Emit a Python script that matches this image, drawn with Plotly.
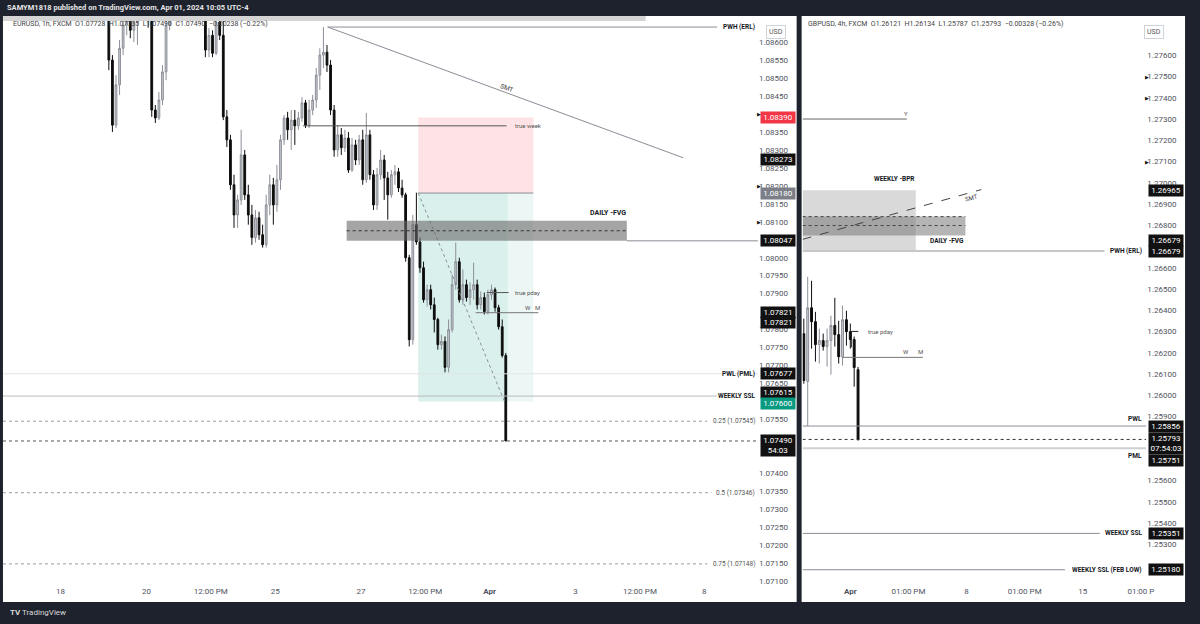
import plotly.graph_objects as go

W, H = 1200, 624
FONT = "Roboto, DejaVu Sans, sans-serif"

# ---------------- EURUSD (1h chart, drawn as 2-hour candles) ----------------
# x = trading-hour index counted from Mon 18 Mar 00:00
eu_x = list(range(27, 27 + 2 * 112, 2))
eu_open = [1.08700, 1.08550, 1.08369, 1.08481, 1.08583, 1.08647, 1.08661, 1.08633, 1.08656, 1.08690,
           1.08750, 1.08720, 1.08660, 1.08411, 1.08389, 1.08439, 1.08517, 1.08647, 1.08703, 1.08820,
           1.08980, 1.09200, 1.09350, 1.09100, 1.08950, 1.08840, 1.08760, 1.08700, 1.08578, 1.08619,
           1.08569, 1.08656, 1.08619, 1.08392, 1.08328, 1.08203, 1.08119, 1.08161, 1.08286, 1.08175,
           1.08119, 1.08056, 1.08111, 1.08064, 1.08036, 1.08147, 1.08203, 1.08147, 1.08217, 1.08328,
           1.08389, 1.08356, 1.08383, 1.08367, 1.08389, 1.08431, 1.08369, 1.08411, 1.08439, 1.08508,
           1.08564, 1.08572, 1.08536, 1.08411, 1.08300, 1.08342, 1.08306, 1.08333, 1.08244, 1.08314,
           1.08272, 1.08328, 1.08217, 1.08342, 1.08231, 1.08147, 1.08231, 1.08272, 1.08222, 1.08175,
           1.08231, 1.08239, 1.08194, 1.08175, 1.08000, 1.07772, 1.08092, 1.08044, 1.07972, 1.07883,
           1.07911, 1.07869, 1.07828, 1.07758, 1.07767, 1.07695, 1.07800, 1.07925, 1.07989, 1.07883,
           1.07925, 1.07889, 1.07911, 1.07925, 1.07869, 1.07889, 1.07850, 1.07897, 1.07911, 1.07861,
           1.07808, 1.07728]
eu_high = [1.08720, 1.08564, 1.08508, 1.08606, 1.08675, 1.08689, 1.08695, 1.08675, 1.08710, 1.08780,
           1.08790, 1.08740, 1.08667, 1.08425, 1.08461, 1.08536, 1.08675, 1.08720, 1.08850, 1.09050,
           1.09250, 1.09420, 1.09380, 1.09150, 1.09020, 1.08900, 1.08800, 1.08720, 1.08639, 1.08633,
           1.08675, 1.08689, 1.08661, 1.08411, 1.08342, 1.08231, 1.08175, 1.08356, 1.08300, 1.08203,
           1.08147, 1.08133, 1.08128, 1.08092, 1.08175, 1.08231, 1.08222, 1.08258, 1.08342, 1.08397,
           1.08406, 1.08411, 1.08411, 1.08406, 1.08447, 1.08439, 1.08439, 1.08453, 1.08528, 1.08583,
           1.08642, 1.08592, 1.08550, 1.08425, 1.08369, 1.08361, 1.08356, 1.08350, 1.08333, 1.08328,
           1.08342, 1.08356, 1.08403, 1.08356, 1.08244, 1.08250, 1.08300, 1.08286, 1.08239, 1.08244,
           1.08258, 1.08250, 1.08217, 1.08181, 1.08008, 1.08119, 1.08181, 1.08056, 1.07989, 1.07925,
           1.07925, 1.07889, 1.07833, 1.07786, 1.07781, 1.07828, 1.07953, 1.08042, 1.08000, 1.07967,
           1.07939, 1.07931, 1.07986, 1.07939, 1.07906, 1.07903, 1.07911, 1.07925, 1.07917, 1.07869,
           1.07828, 1.07735]
eu_low = [1.08522, 1.08350, 1.08361, 1.08453, 1.08564, 1.08619, 1.08611, 1.08600, 1.08592, 1.08660,
          1.08680, 1.08640, 1.08392, 1.08375, 1.08383, 1.08425, 1.08494, 1.08633, 1.08680, 1.08780,
          1.08930, 1.09120, 1.09050, 1.08900, 1.08800, 1.08720, 1.08680, 1.08558, 1.08558, 1.08558,
          1.08564, 1.08606, 1.08383, 1.08308, 1.08189, 1.08083, 1.08083, 1.08147, 1.08161, 1.08092,
          1.08036, 1.08042, 1.08050, 1.08028, 1.08028, 1.08119, 1.08092, 1.08128, 1.08189, 1.08314,
          1.08328, 1.08300, 1.08314, 1.08356, 1.08378, 1.08361, 1.08361, 1.08397, 1.08417, 1.08467,
          1.08528, 1.08517, 1.08397, 1.08281, 1.08281, 1.08286, 1.08294, 1.08236, 1.08239, 1.08258,
          1.08258, 1.08203, 1.08208, 1.08217, 1.08133, 1.08133, 1.08217, 1.08161, 1.08106, 1.08167,
          1.08203, 1.08183, 1.08167, 1.07989, 1.07753, 1.07758, 1.08036, 1.07958, 1.07875, 1.07864,
          1.07856, 1.07792, 1.07744, 1.07744, 1.07681, 1.07681, 1.07792, 1.07911, 1.07875, 1.07869,
          1.07878, 1.07869, 1.07883, 1.07856, 1.07856, 1.07842, 1.07842, 1.07883, 1.07850, 1.07800,
          1.07722, 1.07490]
eu_close = [1.08550, 1.08369, 1.08481, 1.08583, 1.08647, 1.08661, 1.08633, 1.08656, 1.08690, 1.08750,
            1.08720, 1.08660, 1.08411, 1.08389, 1.08439, 1.08517, 1.08647, 1.08703, 1.08820, 1.08980,
            1.09200, 1.09350, 1.09100, 1.08950, 1.08840, 1.08760, 1.08700, 1.08578, 1.08619, 1.08569,
            1.08656, 1.08619, 1.08392, 1.08328, 1.08203, 1.08119, 1.08161, 1.08286, 1.08175, 1.08119,
            1.08056, 1.08111, 1.08064, 1.08036, 1.08147, 1.08203, 1.08147, 1.08217, 1.08328, 1.08389,
            1.08356, 1.08383, 1.08367, 1.08389, 1.08431, 1.08369, 1.08411, 1.08439, 1.08508, 1.08564,
            1.08572, 1.08536, 1.08411, 1.08300, 1.08342, 1.08306, 1.08333, 1.08244, 1.08314, 1.08272,
            1.08328, 1.08217, 1.08342, 1.08231, 1.08147, 1.08231, 1.08272, 1.08222, 1.08175, 1.08231,
            1.08239, 1.08194, 1.08175, 1.08000, 1.07772, 1.08092, 1.08044, 1.07972, 1.07883, 1.07911,
            1.07869, 1.07828, 1.07758, 1.07767, 1.07695, 1.07800, 1.07925, 1.07989, 1.07883, 1.07925,
            1.07889, 1.07911, 1.07925, 1.07869, 1.07889, 1.07850, 1.07897, 1.07911, 1.07861, 1.07808,
            1.07728, 1.07490]
eu_tick_pos = [0, 48, 84, 120, 168, 204, 240, 288, 324, 360]
eu_tick_txt = ["18", "20", "12:00 PM", "25", "27", "12:00 PM", "<b>Apr</b>", "3", "12:00 PM", "8"]
# price-scale labels visible on the EURUSD axis (those hidden under price boxes left out)
eu_price_ticks = [1.07100, 1.07150, 1.07200, 1.07250, 1.07300, 1.07350, 1.07400,
                  1.07550, 1.07650, 1.07700, 1.07750, 1.07800, 1.07900, 1.07950, 1.08000,
                  1.08100, 1.08150, 1.08200, 1.08250, 1.08300, 1.08350, 1.08450, 1.08500,
                  1.08550, 1.08600]

# ---------------- GBPUSD (4h chart) ----------------
# x = 4h bar index, 0 = first bar of Apr 1
gb_x = list(range(-12, 3))
gb_open = [1.26290, 1.26065, 1.26412, 1.26347, 1.26239, 1.26258, 1.26230, 1.26258, 1.26329, 1.26286,
           1.26182, 1.26356, 1.26300, 1.26263, 1.26121]
gb_high = [1.26361, 1.26558, 1.26539, 1.26393, 1.26314, 1.26291, 1.26314, 1.26375, 1.26459, 1.26351,
           1.26422, 1.26398, 1.26338, 1.26277, 1.26134]
gb_low = [1.26055, 1.25856, 1.26220, 1.26159, 1.26150, 1.26211, 1.26135, 1.26098, 1.26230, 1.26150,
          1.26140, 1.26234, 1.26220, 1.26041, 1.25787]
gb_close = [1.26070, 1.26412, 1.26347, 1.26239, 1.26258, 1.26230, 1.26258, 1.26329, 1.26286, 1.26182,
            1.26356, 1.26300, 1.26263, 1.26131, 1.25793]
gb_tick_pos = [0, 15, 30, 45, 60, 75]
gb_tick_txt = ["<b>Apr</b>", "01:00 PM", "8", "01:00 PM", "15", "01:00 P"]
gb_price_ticks = [1.25300, 1.25400, 1.25500, 1.25600, 1.25900, 1.26000, 1.26100, 1.26200,
                  1.26300, 1.26400, 1.26500, 1.26600, 1.26800, 1.26900, 1.27000, 1.27100,
                  1.27200, 1.27300, 1.27400, 1.27500, 1.27600]

# ---------------- figure ----------------
fig = go.Figure()
inc = dict(line=dict(color="#8c8f98", width=1), fillcolor="#c8cad0")
dec = dict(line=dict(color="#0d0d0d", width=1), fillcolor="#0d0d0d")
fig.add_trace(go.Candlestick(x=eu_x, open=eu_open, high=eu_high, low=eu_low, close=eu_close,
                             xaxis="x", yaxis="y", increasing=inc, decreasing=dec,
                             whiskerwidth=0, hoverinfo="skip", showlegend=False))
fig.add_trace(go.Candlestick(x=gb_x, open=gb_open, high=gb_high, low=gb_low, close=gb_close,
                             xaxis="x2", yaxis="y2", increasing=inc, decreasing=dec,
                             whiskerwidth=0, hoverinfo="skip", showlegend=False))

shapes = []
ann = []


def P(px):
    return px / W


def PY(py):
    return 1 - py / H


def rect(xref, yref, x0, x1, y0, y1, fill, layer="below", line=None):
    shapes.append(dict(type="rect", xref=xref, yref=yref, x0=x0, x1=x1, y0=y0, y1=y1,
                       fillcolor=fill, line=line or dict(width=0), layer=layer))


def seg(xref, yref, x0, x1, y0, y1, color, width=1, dash="solid", layer="above"):
    shapes.append(dict(type="line", xref=xref, yref=yref, x0=x0, x1=x1, y0=y0, y1=y1,
                       line=dict(color=color, width=width, dash=dash), layer=layer))


def txt(x, y, text, xref, yref, size=7, color="#131722", xanchor="center", yanchor="middle",
        angle=0, yshift=0, xshift=0):
    ann.append(dict(x=x, y=y, xref=xref, yref=yref, text=text, showarrow=False, xanchor=xanchor,
                    yanchor=yanchor, textangle=angle, yshift=yshift, xshift=xshift,
                    font=dict(size=size, color=color, family=FONT)))


def pbox(text, y, yref, xpx, bg, yshift=0, fg="white"):
    ann.append(dict(x=P(xpx), xref="paper", y=y, yref=yref, text=text, showarrow=False,
                    xanchor="left", yanchor="middle", bgcolor=bg, borderpad=1, width=32,
                    align="center", yshift=yshift, font=dict(size=8, color=fg, family=FONT)))


# panel backgrounds and frame
rect("paper", "paper", P(3), P(802), PY(603), PY(16), "white")
rect("paper", "paper", P(807), P(1193), PY(603), PY(16), "white")
rect("paper", "paper", P(3), P(650), PY(21), PY(16), "#d4d4d4", layer="above")

# ---------- left panel drawings ----------
L_X0, L_X1 = -32.2, 390
rect("x", "y", 200, 264.4, 1.08180, 1.08390, "rgba(242,54,69,0.14)")
rect("x", "y", 200, 250, 1.07600, 1.08180, "rgba(8,153,129,0.15)")
rect("x", "y", 250, 264.4, 1.07600, 1.08180, "rgba(8,153,129,0.08)")
seg("x", "y", 200, 264.4, 1.08180, 1.08180, "#8a8d96")
seg("x", "y", 200, 248.3, 1.08180, 1.07600, "#8a8d96", dash="dot")
rect("x", "y", 160, 316.7, 1.08047, 1.08103, "rgba(105,105,105,0.6)", layer="above")
seg("x", "y", 160, 316.7, 1.08075, 1.08075, "#333333", dash="dot")
seg("x", "y", 316.7, L_X1, 1.08047, 1.08047, "#8a8d96")
seg("x", "y", 135.6, 249.4, 1.08367, 1.08367, "#555555")
seg("x", "y", 149.4, 367.2, 1.08642, 1.08642, "#8a8d96")
seg("x", "y", 149.4, 348.3, 1.08642, 1.08278, "#8a8d96")
seg("x", "y", 238.3, 250.6, 1.07903, 1.07903, "#555555")
seg("x", "y", 232.2, 267.2, 1.07847, 1.07847, "#777777")
seg("x", "y", L_X0, L_X1, 1.07677, 1.07677, "#e3e4e8")
seg("x", "y", L_X0, 367, 1.07615, 1.07615, "#b8bac0")
seg("x", "y", L_X0, 361.7, 1.07545, 1.07545, "#9a9ca3", dash="dot")
seg("x", "y", L_X0, L_X1, 1.07490, 1.07490, "#555555", dash="dot")
seg("x", "y", L_X0, 364, 1.07346, 1.07346, "#9a9ca3", dash="dot")
seg("x", "y", L_X0, 361.7, 1.07148, 1.07148, "#9a9ca3", dash="dot")

txt(253, 1.08367, "true week", "x", "y", size=6, color="#555", xanchor="left")
txt(253, 1.07903, "true pday", "x", "y", size=6, color="#555", xanchor="left")
txt(261.5, 1.07847, "W", "x", "y", size=6, color="#555", yanchor="bottom")
txt(266.5, 1.07847, "M", "x", "y", size=6, color="#555", yanchor="bottom")
txt(306, 1.08125, "<b>DAILY -FVG</b>", "x", "y", size=7)
txt(249.4, 1.08472, "SMT", "x", "y", size=6.5, color="#333", angle=20)
for lvl, label, bold in [(1.08642, "PWH (ERL)", True), (1.07677, "PWL (PML)", True),
                         (1.07615, "WEEKLY SSL", True), (1.07545, "0.25 (1.07545)", False),
                         (1.07346, "0.5 (1.07346)", False), (1.07148, "0.75 (1.07148)", False)]:
    txt(P(762), lvl, f"<b>{label}</b>" if bold else label, "paper", "y", size=6.5,
        color="#131722" if bold else "#555", xanchor="right")

# left price-axis boxes
pbox("1.08390", 1.08390, "y", 765, "#f23645")
pbox("1.08273", 1.08273, "y", 765, "#111111")
pbox("1.08180", 1.08180, "y", 765, "#7c7f88")
pbox("1.08047", 1.08047, "y", 765, "#111111")
pbox("1.07821", 1.07821, "y", 765, "#111111", yshift=10)
pbox("1.07821", 1.07821, "y", 765, "#111111")
pbox("1.07677", 1.07677, "y", 765, "#111111")
pbox("1.07615", 1.07615, "y", 765, "#111111", yshift=4)
pbox("1.07600", 1.07600, "y", 765, "#089981", yshift=-2)
pbox("1.07490<br>54:03", 1.07490, "y", 765, "#111111", yshift=-5)
for lvl in [1.08400, 1.08200, 1.08100]:
    txt(P(760), lvl, "▶", "paper", "y", size=5, color="#111", xanchor="left")

# ---------- right panel drawings ----------
R_X0, R_X1 = -12.31, 76.4
rect("x2", "y2", R_X0, 16.9, 1.26679, 1.26965, "rgba(170,170,170,0.45)")
rect("x2", "y2", R_X0, 29.7, 1.26752, 1.26841, "rgba(120,120,120,0.55)")
seg("x2", "y2", R_X0, 29.7, 1.26841, 1.26841, "#444", dash="dot")
seg("x2", "y2", R_X0, 29.7, 1.26799, 1.26799, "#444", dash="dot")
seg("x2", "y2", R_X0, 33.8, 1.26734, 1.26968, "#444", dash="dash")
seg("x2", "y2", R_X0, 14.6, 1.27300, 1.27300, "#666")
seg("x2", "y2", R_X0, 65.6, 1.26679, 1.26679, "#c6c7cb", width=2)
seg("x2", "y2", 0.26, 0.26, 1.26226, 1.26301, "#222")
seg("x2", "y2", 0.26, 2.05, 1.26301, 1.26301, "#222")
seg("x2", "y2", -2.05, 18.7, 1.26179, 1.26179, "#777")
seg("x2", "y2", R_X0, R_X1, 1.25856, 1.25856, "#8a8d96")
seg("x2", "y2", R_X0, R_X1, 1.25793, 1.25793, "#333", dash="dot")
seg("x2", "y2", R_X0, R_X1, 1.25751, 1.25751, "#cfd0d4", width=2)
seg("x2", "y2", R_X0, 64.4, 1.25351, 1.25351, "#8a8d96")
seg("x2", "y2", R_X0, 55.4, 1.25180, 1.25180, "#8a8d96")

txt(14.4, 1.27300, "Y", "x2", "y2", size=6, color="#555", yanchor="bottom")
txt(11.5, 1.27020, "<b>WEEKLY -BPR</b>", "x2", "y2", size=6.5)
txt(24.9, 1.26724, "<b>DAILY -FVG</b>", "x2", "y2", size=6.5)
txt(31.3, 1.26930, "SMT", "x2", "y2", size=6, color="#333", angle=-15)
txt(4.1, 1.26301, "true pday", "x2", "y2", size=6, color="#555", xanchor="left")
txt(14.4, 1.26179, "W", "x2", "y2", size=6, color="#555", yanchor="bottom")
txt(18.2, 1.26179, "M", "x2", "y2", size=6, color="#555", yanchor="bottom")
txt(P(1152), 1.26679, "<b>PWH (ERL)</b>", "paper", "y2", size=6.5, xanchor="right")
txt(P(1152), 1.25856, "<b>PWL</b>", "paper", "y2", size=6.5, xanchor="right", yanchor="bottom", yshift=1)
txt(P(1152), 1.25751, "<b>PML</b>", "paper", "y2", size=6.5, xanchor="right", yanchor="top", yshift=-2)
txt(P(1152), 1.25351, "<b>WEEKLY SSL</b>", "paper", "y2", size=6.5, xanchor="right")
txt(P(1152), 1.25180, "<b>WEEKLY SSL (FEB LOW)</b>", "paper", "y2", size=6.5, xanchor="right")

pbox("1.26965", 1.26965, "y2", 1156, "#111111")
pbox("1.26679", 1.26679, "y2", 1156, "#111111", yshift=11)
pbox("1.26679", 1.26679, "y2", 1156, "#111111")
pbox("1.25856", 1.25856, "y2", 1156, "#111111")
pbox("1.25793<br>07:54:03", 1.25793, "y2", 1156, "#111111", yshift=-4)
pbox("1.25751", 1.25751, "y2", 1156, "#111111", yshift=-12)
pbox("1.25351", 1.25351, "y2", 1156, "#111111")
pbox("1.25180", 1.25180, "y2", 1156, "#111111")
for lvl in [1.27500, 1.27400, 1.27100]:
    txt(P(1151), lvl, "▶", "paper", "y2", size=5, color="#111", xanchor="left")

# headers, USD, top and bottom bars
txt(P(5), PY(8), "<b>SAMYM1818 published on TradingView.com, Apr 01, 2024 10:05 UTC-4</b>",
    "paper", "paper", size=7.5, color="#e6e6e6", xanchor="left")
txt(P(11), PY(24), "EURUSD, 1h, FXCM  O1.07728  H1.07735  L1.07490  C1.07490  −0.00238 (−0.22%)",
    "paper", "paper", size=7, color="#444", xanchor="left")
txt(P(811), PY(24), "GBPUSD, 4h, FXCM  O1.26121  H1.26134  L1.25787  C1.25793  −0.00328 (−0.26%)",
    "paper", "paper", size=7, color="#444", xanchor="left")
for xp in [781, 1172]:
    ann.append(dict(x=P(xp), y=PY(25), xref="paper", yref="paper", text="USD", showarrow=False,
                    font=dict(size=7, color="#555", family=FONT), bgcolor="white",
                    bordercolor="#d0d3da", borderwidth=1, borderpad=2))
txt(P(8), PY(613), "<b>TV</b> TradingView", "paper", "paper", size=8, color="#d8d8d8", xanchor="left")

axis_font = dict(size=8, color="#50535e", family=FONT)
fig.update_layout(
    width=W, height=H, margin=dict(l=0, r=0, t=0, b=0),
    paper_bgcolor="#1e222d", plot_bgcolor="white", showlegend=False,
    font=dict(family=FONT),
    shapes=shapes, annotations=ann,
    xaxis=dict(domain=[P(3), P(763)], range=[L_X0, L_X1], anchor="y", showgrid=False,
               zeroline=False, showline=False, ticks="", tickvals=eu_tick_pos,
               ticktext=eu_tick_txt, tickfont=axis_font, rangeslider=dict(visible=False),
               fixedrange=True),
    yaxis=dict(domain=[PY(586), PY(17)], range=[1.07089, 1.08670], anchor="x", side="right",
               showgrid=False, zeroline=False, showline=False, ticks="",
               tickvals=eu_price_ticks, ticktext=[f"{v:.5f}" for v in eu_price_ticks],
               tickfont=axis_font, fixedrange=True),
    xaxis2=dict(domain=[P(808), P(1154)], range=[R_X0, R_X1], anchor="y2", showgrid=False,
                zeroline=False, showline=False, ticks="", tickvals=gb_tick_pos,
                ticktext=gb_tick_txt, tickfont=axis_font, rangeslider=dict(visible=False),
                fixedrange=True),
    yaxis2=dict(domain=[PY(586), PY(17)], range=[1.25108, 1.27780], anchor="x2", side="right",
                showgrid=False, zeroline=False, showline=False, ticks="",
                tickvals=gb_price_ticks, ticktext=[f"{v:.5f}" for v in gb_price_ticks],
                tickfont=axis_font, fixedrange=True),
)

fig.write_html(
    "out.html",
    config={"displayModeBar": False},
    post_script="document.body.style.margin='0';document.body.style.overflow='hidden';"
                "document.body.style.background='#1e222d';",
)
